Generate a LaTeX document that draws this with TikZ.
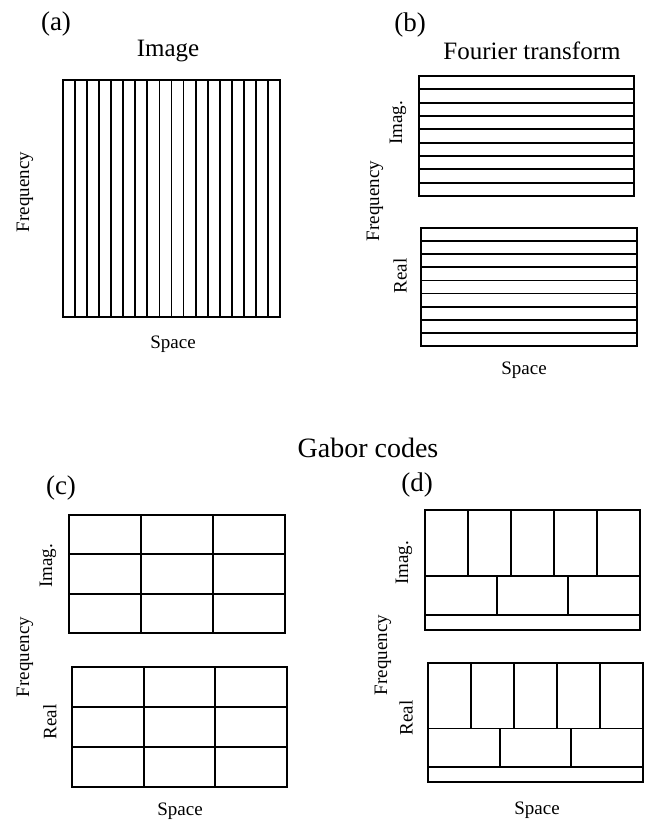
\documentclass[tikz,border=0pt]{standalone}
\usepackage{fontspec}
\setmainfont{Liberation Serif}
\usetikzlibrary{calc}
\begin{document}
\begin{tikzpicture}[x=1pt,y=-1pt,
  panel/.style={draw,line width=2.2pt,inner sep=0pt,outer sep=0pt},
  gridline/.style={line width=1.8pt},
  tag/.style={inner sep=0pt,font=\fontsize{27}{30}\selectfont},
  ttl/.style={inner sep=0pt,font=\fontsize{25}{28}\selectfont},
  lab/.style={inner sep=0pt,font=\fontsize{19}{22}\selectfont},
  vlab/.style={lab,rotate=90}]
\useasboundingbox (0,0) rectangle (649,822);

% ---------- (a) Image ----------
\node[tag] (ta) at (56,24) {(a)};
\node[ttl] (tia) at (168,51) {Image};
\node[panel,minimum width=217pt,minimum height=237pt] (A) at (171.5,198.5) {};
\foreach \i in {1,...,17}
  \draw[gridline] ($(A.north west)!\i/18!(A.north east)$) -- ($(A.south west)!\i/18!(A.south east)$);
\node[vlab] (fa) at (25,192) {Frequency};
\node[lab] (sa) at (173,344) {Space};

% ---------- (b) Fourier transform ----------
\node[tag] (tb) at (410,25) {(b)};
\node[ttl] (tib) at (532,51) {Fourier transform};
\node[panel,minimum width=215pt,minimum height=120pt] (BI) at (526.5,136) {};
\node[panel,minimum width=216pt,minimum height=118pt] (BR) at (529,287) {};
\foreach \P in {BI,BR}
  \foreach \i in {1,...,8}
    \draw[gridline] ($(\P.north west)!\i/9!(\P.south west)$) -- ($(\P.north east)!\i/9!(\P.south east)$);
\node[vlab] (ib) at (398,123) {Imag.};
\node[vlab] (rb) at (400,276) {Real};
\node[vlab] (fb) at (375,201) {Frequency};
\node[lab] (sb) at (524,370) {Space};

% ---------- Gabor codes ----------
\node[inner sep=0pt,font=\fontsize{28}{32}\selectfont] (gc) at (368,448) {Gabor codes};

% ---------- (c) ----------
\node[tag] (tc) at (61,488) {(c)};
\node[panel,minimum width=216pt,minimum height=118pt] (CI) at (177,574) {};
\node[panel,minimum width=215pt,minimum height=120pt] (CR) at (179.5,727) {};
\foreach \P in {CI,CR}
  \foreach \i in {1,2}{
    \draw[gridline] ($(\P.north west)!\i/3!(\P.north east)$) -- ($(\P.south west)!\i/3!(\P.south east)$);
    \draw[gridline] ($(\P.north west)!\i/3!(\P.south west)$) -- ($(\P.north east)!\i/3!(\P.south east)$);
  }
\node[vlab] (ic) at (48,566) {Imag.};
\node[vlab] (rc) at (50,722) {Real};
\node[vlab] (fc) at (25,657) {Frequency};
\node[lab] (sc) at (180,811) {Space};

% ---------- (d) ----------
\node[tag] (td) at (417,485) {(d)};
\node[panel,minimum width=215pt,minimum height=120pt] (DI) at (532.5,570) {};
\node[panel,minimum width=215pt,minimum height=119pt] (DR) at (535.5,722.5) {};
\foreach \P in {DI,DR}{
  \coordinate (\P rowa) at ($(\P.north west)!0.55!(\P.south west)$);
  \coordinate (\P rowb) at ($(\P.north west)!0.875!(\P.south west)$);
  \draw[gridline] (\P rowa) -- (\P rowa -| \P.east);
  \draw[gridline] (\P rowb) -- (\P rowb -| \P.east);
  \foreach \k in {1,...,4}{
    \coordinate (\P top\k) at ($(\P.north west)!\k/5!(\P.north east)$);
    \draw[gridline] (\P top\k) -- (\P top\k |- \P rowa);
  }
  \foreach \k in {1,2}{
    \coordinate (\P mid\k) at ($(\P.north west)!\k/3!(\P.north east)$);
    \draw[gridline] (\P mid\k |- \P rowa) -- (\P mid\k |- \P rowb);
  }
}
\node[vlab] (id) at (404,563) {Imag.};
\node[vlab] (rd) at (406,718) {Real};
\node[vlab] (fd) at (383,655) {Frequency};
\node[lab] (sd) at (537,810) {Space};
\end{tikzpicture}
\end{document}
